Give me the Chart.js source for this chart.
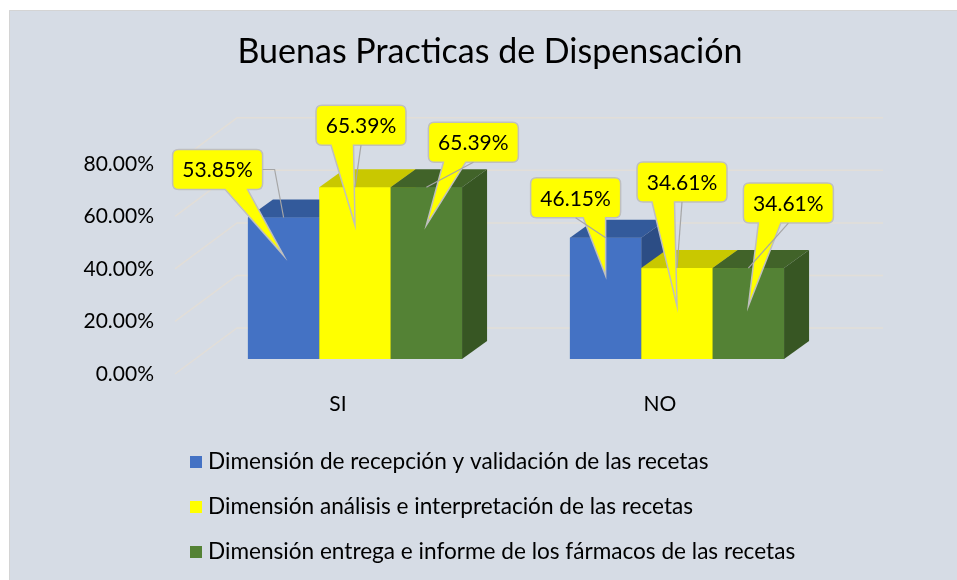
<!DOCTYPE html>
<html>
<head>
<meta charset="utf-8">
<title>Buenas Practicas de Dispensación</title>
<script src="https://cdn.jsdelivr.net/npm/chart.js@4.4.1/dist/chart.umd.min.js"></script>
<style>
  html, body { margin: 0; padding: 0; background: #fff; }
  canvas { display: block; }
</style>
</head>
<body>
<canvas id="dispChart" width="957" height="580"></canvas>
<script>
// Chart data
const categories = ['SI', 'NO'];
const seriesNames = [
    'Dimensión de recepción y validación de las recetas',
    'Dimensión análisis e interpretación de las recetas',
    'Dimensión entrega e informe de los fármacos de las recetas'
];
const recepcion = [53.85, 46.15];
const analisis = [65.39, 34.61];
const entrega = [65.39, 34.61];
const yTicks = [0, 20, 40, 60, 80];

// Colours: front face, top face, side face
const frontColors = ['#4472c4', '#ffff00', '#548235'];
const topColors = ['#335a9b', '#c9c800', '#416329'];
const sideColors = ['#2c4d85', '#b3b000', '#375623'];

// Callout box centre relative to its pointer tip [dataset][category]
const calloutOffsets = [
    [[-66, -86], [-30, -78]],
    [[6, -100], [5, -124]],
    [[47, -83], [40, -103]]
];

const DEPTH_X = 25;
const DEPTH_Y = 18;

// Plot background + frame
const background = {
    id: 'background',
    beforeDraw(chart) {
        const c = chart.ctx;
        c.save();
        c.fillStyle = '#ffffff';
        c.fillRect(0, 0, chart.width, chart.height);
        c.fillStyle = '#d6dce5';
        c.fillRect(9, 10, chart.width - 9, chart.height - 10);
        c.strokeStyle = '#d4d4d4';
        c.lineWidth = 1;
        c.beginPath();
        c.moveTo(9.5, chart.height);
        c.lineTo(9.5, 10.5);
        c.lineTo(chart.width, 10.5);
        c.stroke();
        c.restore();
    }
};

// 3D-looking gridlines (side wall + back wall)
const wallGrid = {
    id: 'wallGrid',
    beforeDatasetsDraw(chart) {
        const { ctx, chartArea, scales: { y } } = chart;
        ctx.save();
        ctx.strokeStyle = '#e2ded8';
        ctx.lineWidth = 1.5;
        y.ticks.forEach(t => {
            const py = y.getPixelForValue(t.value);
            ctx.beginPath();
            ctx.moveTo(chartArea.left - 19, py + 15);
            ctx.lineTo(chartArea.left + 43, py - 31);
            ctx.lineTo(chartArea.right + 45, py - 31);
            ctx.stroke();
        });
        ctx.restore();
    }
};

function calloutPath(ctx, l, t, w, h, r, tip) {
    const right = l + w, bottom = t + h;
    const cx = l + w / 2;
    let b1, b2;
    if (tip.x > cx) {
        b1 = l + w * 7 / 12; b2 = l + w * 10 / 12;
    } else {
        b1 = l + w * 2 / 12; b2 = l + w * 5 / 12;
    }
    ctx.beginPath();
    ctx.moveTo(l + r, t);
    ctx.lineTo(right - r, t);
    ctx.quadraticCurveTo(right, t, right, t + r);
    ctx.lineTo(right, bottom - r);
    ctx.quadraticCurveTo(right, bottom, right - r, bottom);
    ctx.lineTo(b2, bottom);
    ctx.lineTo(tip.x, tip.y);
    ctx.lineTo(b1, bottom);
    ctx.lineTo(l + r, bottom);
    ctx.quadraticCurveTo(l, bottom, l, bottom - r);
    ctx.lineTo(l, t + r);
    ctx.quadraticCurveTo(l, t, l + r, t);
    ctx.closePath();
}

// Top / side faces of the bars, then the callout labels
const bars3d = {
    id: 'bars3d',
    afterDatasetsDraw(chart) {
        const ctx = chart.ctx;
        ctx.save();
        categories.forEach((cat, i) => {
            chart.data.datasets.forEach((ds, d) => {
                const bar = chart.getDatasetMeta(d).data[i];
                const l = bar.x - bar.width / 2;
                const r = bar.x + bar.width / 2;
                const top = bar.y, bottom = bar.base;
                ctx.fillStyle = frontColors[d];
                ctx.fillRect(l, top, r - l, bottom - top);
                ctx.fillStyle = topColors[d];
                ctx.beginPath();
                ctx.moveTo(l, top);
                ctx.lineTo(l + DEPTH_X, top - DEPTH_Y);
                ctx.lineTo(r + DEPTH_X, top - DEPTH_Y);
                ctx.lineTo(r, top);
                ctx.closePath();
                ctx.fill();
                ctx.fillStyle = sideColors[d];
                ctx.beginPath();
                ctx.moveTo(r, top);
                ctx.lineTo(r + DEPTH_X, top - DEPTH_Y);
                ctx.lineTo(r + DEPTH_X, bottom - DEPTH_Y);
                ctx.lineTo(r, bottom);
                ctx.closePath();
                ctx.fill();
            });
        });

        // callouts
        const w = 90, h = 40;
        ctx.font = '21px Lato';
        ctx.textAlign = 'center';
        ctx.textBaseline = 'middle';
        chart.data.datasets.forEach((ds, d) => {
            chart.getDatasetMeta(d).data.forEach((bar, i) => {
                const tip = { x: bar.x, y: bar.y + 38 };
                const cx = tip.x + calloutOffsets[d][i][0];
                const cy = tip.y + calloutOffsets[d][i][1];
                const l = cx - w / 2, t = cy - h / 2;
                calloutPath(ctx, l, t, w, h, 6, tip);
                ctx.fillStyle = '#ffff00';
                ctx.fill();
                ctx.strokeStyle = '#bfbfbf';
                ctx.lineWidth = 1.5;
                ctx.stroke();
                ctx.fillStyle = '#000';
                ctx.fillText(ds.data[i].toFixed(2) + '%', cx, cy + 1);

                // leader line to the bar top
                ctx.strokeStyle = '#a6a6a6';
                ctx.lineWidth = 1.2;
                ctx.beginPath();
                if (bar.x > l + w) {
                    ctx.moveTo(l + w, cy);
                    ctx.lineTo(l + w + 12, cy);
                } else {
                    ctx.moveTo(cx, t + h);
                }
                ctx.lineTo(bar.x, bar.y);
                ctx.stroke();
            });
        });
        ctx.restore();
    }
};

// Stacked legend under the axis
const legendRows = {
    id: 'legendRows',
    afterDraw(chart) {
        const ctx = chart.ctx;
        const x0 = chart.chartArea.left - 4;
        const y0 = chart.scales.x.bottom + 43;
        ctx.save();
        ctx.font = '22.6px Lato';
        ctx.textAlign = 'left';
        ctx.textBaseline = 'middle';
        seriesNames.forEach((name, i) => {
            const y = y0 + i * 45;
            ctx.fillStyle = frontColors[i];
            ctx.fillRect(x0, y - 6, 12, 12);
            ctx.fillStyle = '#000';
            ctx.fillText(name, x0 + 18, y);
        });
        ctx.restore();
    }
};

Chart.defaults.font.family = 'Lato';
Chart.defaults.color = '#000';

const ctx = document.getElementById('dispChart').getContext('2d');
const dispChart = new Chart(ctx, {
    type: 'bar',
    data: {
        labels: categories,
        datasets: [
            { label: seriesNames[0], data: recepcion, backgroundColor: frontColors[0] },
            { label: seriesNames[1], data: analisis, backgroundColor: frontColors[1] },
            { label: seriesNames[2], data: entrega, backgroundColor: frontColors[2] }
        ]
    },
    options: {
        responsive: false,
        animation: false,
        devicePixelRatio: 1,
        layout: { padding: { left: 23, right: 0, top: 0, bottom: 161 } },
        datasets: { bar: { categoryPercentage: 0.665, barPercentage: 1 } },
        plugins: {
            legend: { display: false },
            tooltip: { enabled: false },
            title: {
                display: true,
                text: 'Buenas Practicas de Dispensación',
                color: '#000',
                font: { size: 34, weight: 'normal' },
                padding: { top: 32, bottom: 76 }
            }
        },
        scales: {
            x: {
                grid: { display: false, drawTicks: false },
                border: { display: false },
                ticks: { font: { size: 21 }, padding: 33, labelOffset: -17 },
                afterFit(s) { s.height = 60; }
            },
            y: {
                min: 0,
                max: 80,
                grid: { display: false, drawTicks: false },
                border: { display: false },
                afterBuildTicks(s) { s.ticks = yTicks.map(v => ({ value: v })); },
                afterFit(s) { s.width = 171; },
                ticks: {
                    font: { size: 21 },
                    padding: 40,
                    labelOffset: 15,
                    callback: v => v.toFixed(2) + '%'
                }
            },
            spacer: {
                type: 'linear',
                position: 'right',
                grid: { display: false, drawTicks: false },
                border: { display: false },
                ticks: { display: false },
                afterFit(s) { s.width = 119; }
            }
        }
    },
    plugins: [background, wallGrid, bars3d, legendRows]
});
</script>
</body>
</html>
